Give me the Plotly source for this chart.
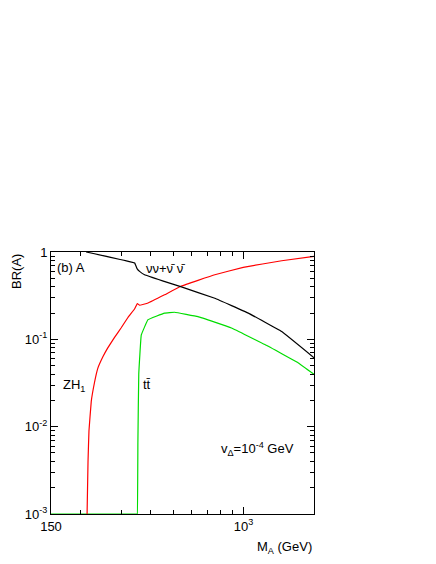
import plotly.graph_objects as go
import numpy as np

red_x = [214, 216, 218, 223, 230, 238, 250, 262, 280, 299, 320, 342, 351, 359, 390, 459, 542, 753, 996, 1455, 2000]
red_y = [-3, -2.4, -2.05, -1.71, -1.50, -1.33, -1.20, -1.10, -0.98, -0.87, -0.75, -0.65, -0.59, -0.61, -0.584, -0.49, -0.39, -0.26, -0.176, -0.10, -0.05]
blk_x = [212, 342, 345, 350, 360, 377, 450, 542, 753, 1047, 1455, 2000]
blk_y = [0, -0.126, -0.15, -0.19, -0.225, -0.26, -0.33, -0.40, -0.53, -0.70, -0.91, -1.21]
grn_x = [150, 350, 351, 353, 356, 365, 390, 459, 507, 638, 887, 1233, 1714, 2000]
grn_y = [-3, -3, -3, -2.17, -1.40, -0.95, -0.775, -0.70, -0.69, -0.74, -0.87, -1.06, -1.27, -1.40]

fig = go.Figure()
for xs, ys, c in [(grn_x, grn_y, "#00dd00"), (red_x, red_y, "#ff0000"), (blk_x, blk_y, "#000000")]:
    fig.add_trace(go.Scatter(x=xs, y=[10**v for v in ys], mode="lines",
                             line=dict(color=c, width=1.2, shape="spline", smoothing=0.2),
                             showlegend=False))

F = "Liberation Sans, Arial, sans-serif"
ax = dict(showline=True, linecolor="black", linewidth=1, mirror="ticks", ticks="inside",
          ticklen=7, tickcolor="black", showgrid=False, zeroline=False, automargin=False)
yminor = [m * 10**d for d in (-3, -2, -1) for m in range(2, 10)]
xminor = [200, 300, 400, 500, 600, 700, 800, 900, 2000]
fig.update_xaxes(type="log", range=[np.log10(150), np.log10(2000)],
                 tickvals=[150, 1000], ticktext=["150", "10<sup>3</sup>"],
                 minor=dict(ticks="inside", ticklen=4, tickcolor="black", tickvals=xminor), **ax)
fig.update_yaxes(type="log", range=[-3, 0],
                 tickvals=[0.001, 0.01, 0.1, 1],
                 ticktext=["10<sup>-3</sup>", "10<sup>-2</sup>", "10<sup>-1</sup>", "1"],
                 minor=dict(ticks="inside", ticklen=4, tickcolor="black", tickvals=yminor), **ax)
fig.update_layout(width=436, height=564, margin=dict(l=43, r=130, t=244, b=58),
                  plot_bgcolor="white", paper_bgcolor="white",
                  font=dict(family=F, size=13, color="black"))

def ann(text, x, y, xa="left", ya="middle", angle=0):
    fig.add_annotation(text=text, x=x, y=y, xref="paper", yref="paper", showarrow=False,
                       xanchor=xa, yanchor=ya, textangle=angle, font=dict(family=F, size=13))

W, H = 263, 262
def px(x): return (x - 50) / W
def py(y): return (513 - y) / H
ann("(b) A", px(54), py(266))
ann("νν+ν̄ ν̄", px(143), py(267))
ann("ZH<sub>1</sub>", px(60), py(384))
ann("tt̄", px(140), py(383))
ann("v<sub>Δ</sub>=10<sup>-4</sup> GeV", px(218), py(448))
ann("BR(A)", px(15), py(271), xa="center", angle=-90)
ann("M<sub>A</sub> (GeV)", px(313), py(546), xa="right")
fig.write_html("out.html")
